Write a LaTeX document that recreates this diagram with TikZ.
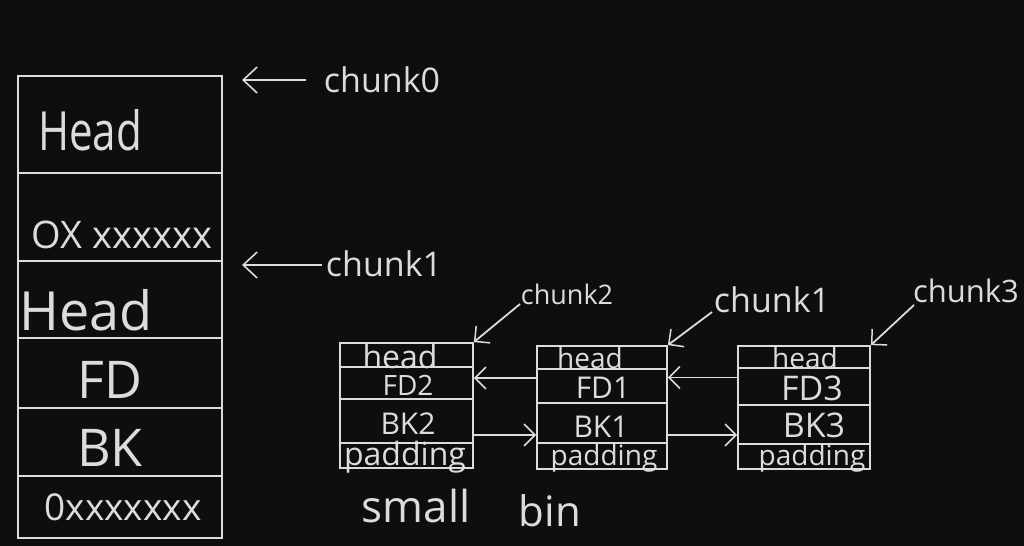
\documentclass[tikz,border=0pt]{standalone}
\usepackage{fontspec}
\setmainfont{Open Sans}
\newfontfamily\narrowfont{Open Sans}[FakeStretch=0.78]
\usetikzlibrary{arrows.meta}
\definecolor{board}{HTML}{0E0E0E}
\definecolor{chalk}{HTML}{DCDCDC}
\begin{document}
\begin{tikzpicture}[x=1bp,y=-1bp,
  chalkline/.style={draw=chalk,line width=1.8bp},
  cell/.style 2 args={chalkline,rectangle,inner sep=0pt,minimum width=#1,minimum height=#2},
  lbl/.style={text=chalk,inner sep=0pt,font=\fontsize{#1}{#1}\selectfont},
  bigarr/.style={chalkline,-{Straight Barb[length=14bp,width=26bp,line width=1.6bp]}},
  smallarr/.style={chalkline,-{Straight Barb[length=11bp,width=22bp,line width=1.5bp]}}
]
\fill[board] (0,0) rectangle (1024,546);
\useasboundingbox (0,0) rectangle (1024,546);

% left memory column
\node[cell={204bp}{97bp}] (L1) at (120,124.5) {};
\node[cell={204bp}{88bp}] (L2) at (120,217) {};
\node[cell={204bp}{77bp}] (L3) at (120,299.5) {};
\node[cell={204bp}{70bp}] (L4) at (120,373) {};
\node[cell={204bp}{68bp}] (L5) at (120,442) {};
\node[cell={204bp}{62bp}] (L6) at (120,507) {};

\node[lbl=54bp] (tHead1) at (90,130) {\narrowfont Head};
\node[lbl=38bp] (tOX) at (122,235) {OX xxxxxx};
\node[lbl=54bp] (tHead2) at (86,310) {Head};
\node[lbl=52bp] (tFD) at (110,380) {FD};
\node[lbl=52bp] (tBK) at (110,448) {BK};
\node[lbl=37bp] (tOx2) at (123,507) {0xxxxxxx};

% chunk0 / chunk1 pointers
\node[lbl=34bp] (ch0) at (382,80) {chunk0};
\node[lbl=34bp] (ch1) at (384,264) {chunk1};
\coordinate (p0) at (242,80);
\coordinate (p1) at (242,265);
\draw[bigarr] (ch0.west |- p0) ++(-18,0) -- (p0);
\draw[bigarr] (ch1.west |- p1) ++(-4,0) -- (p1);

% small bin box A
\node[cell={133bp}{24bp}] (a1) at (406.5,355) {};
\node[cell={133bp}{32bp}] (a2) at (406.5,383) {};
\node[cell={133bp}{44bp}] (a3) at (406.5,421) {};
\node[cell={133bp}{25bp}] (a4) at (406.5,455.5) {};
\node[lbl=32bp] (ta1) at (400,356) {head};
\node[lbl=28bp] (ta2) at (408,385) {FD2};
\node[lbl=30bp] (ta3) at (408,424) {BK2};
\node[lbl=32bp] (ta4) at (405,457) {padding};

% small bin box B
\node[cell={130bp}{23bp}] (b1) at (602,357.5) {};
\node[cell={130bp}{34bp}] (b2) at (602,386) {};
\node[cell={130bp}{40bp}] (b3) at (602,423) {};
\node[cell={130bp}{26bp}] (b4) at (602,456) {};
\node[lbl=28bp] (tb1) at (590,358) {head};
\node[lbl=30bp] (tb2) at (603,388) {FD1};
\node[lbl=30bp] (tb3) at (601,427) {BK1};
\node[lbl=28bp] (tb4) at (604,458) {padding};

% small bin box C
\node[cell={132bp}{22bp}] (c1) at (804,357) {};
\node[cell={132bp}{37bp}] (c2) at (804,386.5) {};
\node[cell={132bp}{39bp}] (c3) at (804,424.5) {};
\node[cell={132bp}{25bp}] (c4) at (804,456.5) {};
\node[lbl=28bp] (tc1) at (805,358) {head};
\node[lbl=34bp] (tc2) at (812,388) {FD3};
\node[lbl=34bp] (tc3) at (814,425) {BK3};
\node[lbl=28bp] (tc4) at (812,458) {padding};

% fd / bk links
\draw[smallarr] ([yshift=8bp]b2.west) -- ([yshift=8bp]b2.west -| a2.east);
\draw[smallarr] ([yshift=9bp]c2.west) -- ([yshift=9bp]c2.west -| b2.east);
\draw[smallarr] ([yshift=-14bp]a3.east) -- ([yshift=-14bp]a3.east -| b3.west);
\draw[smallarr] ([yshift=-12bp]b3.east) -- ([yshift=-12bp]b3.east -| c3.west);

% pointer labels
\node[lbl=27bp] (ch2) at (567,294) {chunk2};
\node[lbl=34bp] (ch1b) at (772,300) {chunk1};
\node[lbl=31bp] (ch3) at (966,291) {chunk3};
\coordinate (q2) at (520,304);
\coordinate (q1) at (712,312);
\coordinate (q3) at (914,305);
\draw[smallarr] (q2) -- (a1.north east);
\draw[smallarr] (q1) -- (b1.north east);
\draw[smallarr] (q3) -- (c1.north east);

% caption
\node[lbl=44bp] (small) at (416,506) {small};
\node[lbl=42bp] (bin) at (550,511) {bin};
\end{tikzpicture}
\end{document}
